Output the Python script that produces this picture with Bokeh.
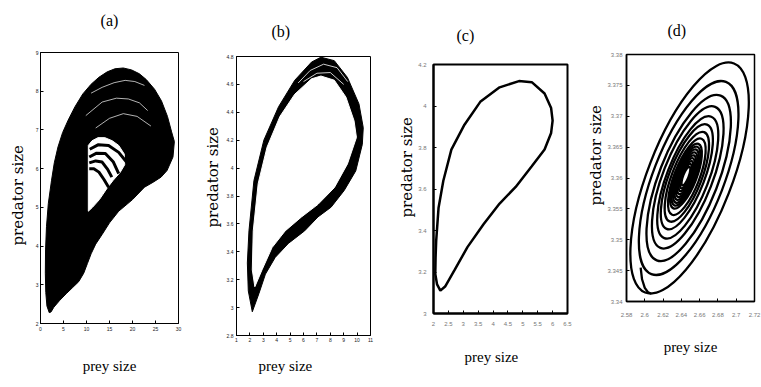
from bokeh.plotting import figure
from bokeh.layouts import row, column
from bokeh.models import Range1d, FixedTicker, LinearAxis, Title
from bokeh.embed import file_html
from bokeh.resources import INLINE

# ---------------- texts ----------------
panel_titles = ["(a)", "(b)", "(c)", "(d)"]
x_title = "prey size"
y_title = "predator size"

# ---------------- panel (a): chaotic attractor ----------------
a_prey_ticks = [0, 5, 10, 15, 20, 25, 30]
a_prey_labels = ["0", "5", "10", "15", "20", "25", "30"]
a_pred_ticks = [2, 3, 4, 5, 6, 7, 8, 9]
a_pred_labels = ["2", "3", "4", "5", "6", "7", "8", "9"]
# outline of the densely filled region
a_region_prey = [1.9, 1.4, 1.15, 1.05, 1.1, 1.3, 1.7, 2.4, 3.0, 3.8, 4.8, 6.0, 7.5, 9.2, 11.0,
                 12.7, 14.5, 16.2, 18.0, 19.8, 21.5, 23.0, 24.8, 26.3, 27.6, 28.5, 29.1, 28.8,
                 27.5, 26.2, 24.5, 22.6, 20.0, 17.0, 15.0, 13.4, 12.0, 11.0, 10.2, 9.4, 8.3,
                 7.0, 5.6, 4.2, 2.9, 2.3]
a_region_pred = [2.28, 2.45, 2.8, 3.3, 3.9, 4.5, 5.1, 5.7, 6.15, 6.56, 6.93, 7.25, 7.6, 7.93, 8.18,
                 8.36, 8.5, 8.58, 8.6, 8.55, 8.45, 8.3, 8.05, 7.75, 7.35, 6.95, 6.7, 6.3,
                 5.95, 5.78, 5.65, 5.52, 5.2, 4.9, 4.6, 4.3, 4.05, 3.8, 3.55, 3.3, 3.08,
                 2.93, 2.77, 2.6, 2.42, 2.3]
# empty region inside the attractor
a_hole_prey = [10.4, 10.4, 11.2, 12.5, 14.0, 15.6, 17.0, 18.2, 18.3, 17.3, 15.8, 14.5, 12.8, 11.3]
a_hole_pred = [4.9, 6.6, 6.72, 6.8, 6.8, 6.72, 6.6, 6.38, 6.1, 5.9, 5.7, 5.5, 5.2, 5.0]
# orbits crossing the empty region
a_arc_prey = [[10.7, 12.6, 14.8, 17.0, 18.7],
              [10.6, 12.2, 14.1, 15.8, 17.0],
              [10.6, 12.0, 13.4, 14.6, 15.5],
              [10.6, 11.6, 12.7, 13.8, 14.8]]
a_arc_pred = [[6.5, 6.62, 6.6, 6.42, 6.17],
              [6.3, 6.4, 6.39, 6.18, 5.87],
              [6.15, 6.2, 6.17, 5.98, 5.78],
              [6.0, 6.0, 5.91, 5.72, 5.52]]
# thin gaps between orbits
a_gap_prey = [[9.85, 13.4, 16.5, 19.1, 21.5, 23.3],
              [11.0, 13.4, 16.0, 18.4, 20.5, 22.6],
              [12.0, 15.0, 18.0, 21.0, 24.0]]
a_gap_pred = [[7.37, 7.72, 7.82, 7.8, 7.7, 7.5],
              [7.95, 8.1, 8.22, 8.28, 8.25, 8.15],
              [7.05, 7.3, 7.42, 7.35, 7.1]]

# ---------------- panel (b): banded cycle ----------------
b_prey_ticks = [1, 2, 3, 4, 5, 6, 7, 8, 9, 10, 11]
b_prey_labels = ["1", "2", "3", "4", "5", "6", "7", "8", "9", "10", "11"]
b_pred_ticks = [2.8, 3, 3.2, 3.4, 3.6, 3.8, 4, 4.2, 4.4, 4.6, 4.8]
b_pred_labels = ["2.8", "3", "3.2", "3.4", "3.6", "3.8", "4", "4.2", "4.4", "4.6", "4.8"]
b_outer_prey = [2.18, 1.88, 1.81, 1.93, 2.3, 3.04, 4.14, 5.35, 6.6, 7.3, 8.3, 9.28, 10.14,
                10.46, 10.39, 9.9, 9.04, 8.06, 7.08, 6.08, 4.87, 3.89, 3.16, 2.67]
b_outer_pred = [2.97, 3.12, 3.32, 3.55, 3.91, 4.2, 4.44, 4.63, 4.76, 4.795, 4.77, 4.65, 4.46,
                4.29, 4.17, 3.98, 3.84, 3.72, 3.65, 3.55, 3.46, 3.36, 3.24, 3.1]
b_inner_prey = [2.37, 2.18, 2.25, 2.62, 3.28, 4.24, 5.35, 6.6, 7.3, 8.3, 9.16, 9.77, 9.95,
                9.28, 8.3, 7.08, 5.85, 4.63, 3.65, 2.9]
b_inner_pred = [3.15, 3.27, 3.55, 3.89, 4.15, 4.37, 4.53, 4.64, 4.66, 4.63, 4.51, 4.34, 4.22,
                4.03, 3.86, 3.74, 3.65, 3.55, 3.43, 3.27]
b_gap_prey = [[5.6, 6.5, 7.5, 8.5, 9.3], [6.0, 7.0, 8.0, 9.0]]
b_gap_pred = [[4.61, 4.7, 4.745, 4.72, 4.62], [4.62, 4.68, 4.685, 4.6]]

# ---------------- panel (c): limit cycle ----------------
c_prey_ticks = [2, 2.5, 3, 3.5, 4, 4.5, 5, 5.5, 6, 6.5]
c_prey_labels = ["2", "2.5", "3", "3.5", "4", "4.5", "5", "5.5", "6", "6.5"]
c_pred_ticks = [3, 3.2, 3.4, 3.6, 3.8, 4, 4.2]
c_pred_labels = ["3", "3.2", "3.4", "3.6", "3.8", "4", "4.2"]
c_prey = [2.23, 2.12, 2.06, 2.07, 2.09, 2.17, 2.33, 2.6, 3.04, 3.57, 4.22, 4.87, 5.3, 5.73,
          5.95, 6.0, 5.95, 5.73, 5.3, 4.76, 4.22, 3.68, 3.14, 2.71, 2.39]
c_pred = [3.11, 3.14, 3.19, 3.27, 3.35, 3.51, 3.64, 3.79, 3.91, 4.02, 4.09, 4.12, 4.115, 4.06,
          3.99, 3.93, 3.87, 3.79, 3.71, 3.61, 3.53, 3.43, 3.32, 3.21, 3.13]

# ---------------- panel (d): stable focus (spiral) ----------------
d_prey_ticks = [2.58, 2.6, 2.62, 2.64, 2.66, 2.68, 2.7, 2.72]
d_prey_labels = ["2.58", "2.6", "2.62", "2.64", "2.66", "2.68", "2.7", "2.72"]
d_pred_ticks = [3.34, 3.345, 3.35, 3.355, 3.36, 3.365, 3.37, 3.375, 3.38]
d_pred_labels = ["3.34", "3.345", "3.35", "3.355", "3.36", "3.365", "3.37", "3.375", "3.38"]
# one entry per turn of the spiral: centre, prey width, predator length of the turn
d_turn_prey = [2.649, 2.648, 2.648, 2.647, 2.647, 2.646, 2.646, 2.646, 2.645, 2.645, 2.645,
               2.645, 2.645, 2.645, 2.645, 2.645, 2.645]
d_turn_pred = [3.3600, 3.3600, 3.3600, 3.3601, 3.3601, 3.3602, 3.3602, 3.3602, 3.3603, 3.3603,
               3.3603, 3.3603, 3.3603, 3.3603, 3.3603, 3.3603, 3.3603]
d_turn_width = [0.092, 0.0775, 0.0648, 0.0543, 0.0457, 0.0386, 0.0326, 0.0275, 0.0232, 0.0205,
                0.018, 0.016, 0.014, 0.012, 0.010, 0.008, 0.006]
d_turn_length = [0.0398, 0.0334, 0.0286, 0.0245, 0.0211, 0.0181, 0.0155, 0.0132, 0.0112, 0.0102,
                 0.0092, 0.0082, 0.0072, 0.0062, 0.0052, 0.0042, 0.0032]
d_start_prey = [2.5955, 2.597, 2.600, 2.6035, 2.607]
d_start_pred = [3.3455, 3.3436, 3.3422, 3.3415, 3.3413]

FONTS = {"above": ("Liberation Serif", "16px"), "below": ("Liberation Serif", "15px"),
         "left": ("DejaVu Serif", "15px")}


def make_panel(xr, yr, xt, xl, yt, yl, size, borders, tick_size, tick_color, lab_std, frame_w):
    p = figure(width=size[0], height=size[1], x_range=Range1d(*xr), y_range=Range1d(*yr),
               output_backend="svg", toolbar_location=None,
               min_border_left=borders[0], min_border_right=borders[1],
               min_border_top=borders[2], min_border_bottom=borders[3])
    p.grid.visible = False
    p.outline_line_color = "black"
    p.outline_line_width = frame_w
    p.background_fill_color = "white"
    p.border_fill_color = "white"
    axes = [(p.xaxis[0], xt, xl, lab_std[0]), (p.yaxis[0], yt, yl, lab_std[1])]
    for ax, ticks, labels, std in axes:
        ax.ticker = FixedTicker(ticks=ticks)
        ax.major_label_overrides = dict(zip(ticks, labels))
        ax.minor_tick_line_color = None
        ax.major_tick_in = 3
        ax.major_tick_out = 0
        ax.axis_line_width = frame_w
        ax.major_label_text_font = "Liberation Sans"
        ax.major_label_text_font_size = tick_size
        ax.major_label_text_color = tick_color
        ax.major_label_standoff = std
    return p


def axis_text(p, side, text, std):
    # a text centred on the frame, carried by an axis without ticks or line
    font, size = FONTS[side]
    ax = LinearAxis(ticker=FixedTicker(ticks=[]), axis_line_color=None,
                    major_tick_line_color=None, minor_tick_line_color=None,
                    major_tick_in=0, major_tick_out=0, minor_tick_in=0, minor_tick_out=0,
                    major_label_standoff=0, axis_label=text, axis_label_standoff=std,
                    axis_label_text_font=font, axis_label_text_font_size=size,
                    axis_label_text_font_style="normal", axis_label_text_color="black")
    p.add_layout(ax, side)


def title_text(p, side, text, off, std):
    # a text shifted along the frame by off pixels
    font, size = FONTS[side]
    p.add_layout(Title(text=text, align="left", offset=off, standoff=std,
                       vertical_align="bottom", text_font=font, text_font_size=size,
                       text_font_style="normal", text_color="black"), side)


# panel (a)
pa = make_panel((0, 30), (2, 9), a_prey_ticks, a_prey_labels, a_pred_ticks, a_pred_labels,
                (200, 376), (37, 22, 52, 53), "5px", "#222222", (3, 2), 1)
pa.patch(a_region_prey, a_region_pred, fill_color="black", line_color="black", line_width=1)
pa.patch(a_hole_prey, a_hole_pred, fill_color="white", line_color="white", line_width=1)
pa.multi_line(a_gap_prey, a_gap_pred, line_color="white", line_width=0.7)
pa.multi_line(a_arc_prey, a_arc_pred, line_color="black", line_width=3)
axis_text(pa, "above", panel_titles[0], 24)
axis_text(pa, "below", x_title, 24)
title_text(pa, "left", y_title, 78, 12)

# panel (b)
pb = make_panel((1, 11), (2.8, 4.8), b_prey_ticks, b_prey_labels, b_pred_ticks, b_pred_labels,
                (195, 386), (34, 25, 56, 51), "5px", "#222222", (2, 3), 1)
pb.patch(b_outer_prey, b_outer_pred, fill_color="black", line_color="black", line_width=1)
pb.patch(b_inner_prey, b_inner_pred, fill_color="white", line_color="white", line_width=1)
pb.multi_line(b_gap_prey, b_gap_pred, line_color="white", line_width=0.8)
title_text(pb, "above", panel_titles[1], 35, 34)
title_text(pb, "below", x_title, 22, 23)
title_text(pb, "left", y_title, 108, 3)

# panel (c)
pc = make_panel((2, 6.5), (3, 4.2), c_prey_ticks, c_prey_labels, c_pred_ticks, c_pred_labels,
                (189, 385), (34, 17, 64, 72), "6px", "#777777", (8, 7), 2)
pc.patch(c_prey, c_pred, fill_color=None, line_color="black", line_width=2.5)
title_text(pc, "above", panel_titles[2], 23, 42)
title_text(pc, "below", x_title, 31, 37)
title_text(pc, "left", y_title, 96, 0)

# panel (d)
pd_ = make_panel((2.58, 2.72), (3.34, 3.38), d_prey_ticks, d_prey_labels, d_pred_ticks,
                 d_pred_labels, (177, 358), (38, 7, 54, 57), "6px", "#777777", (11, 4), 1.5)
pd_.ellipse(x=d_turn_prey, y=d_turn_pred, width=d_turn_width, height=d_turn_length,
            angle=-0.37, fill_color=None, line_color="black", line_width=2.3)
pd_.line(d_start_prey, d_start_pred, line_color="black", line_width=2.3)
title_text(pd_, "above", panel_titles[3], 41, 32)
axis_text(pd_, "below", x_title, 19)
title_text(pd_, "left", y_title, 96, 0)

layout = row(column(pa), column(pb), column(pc), column(pd_))
open("out.html", "w").write(file_html(layout, INLINE))
